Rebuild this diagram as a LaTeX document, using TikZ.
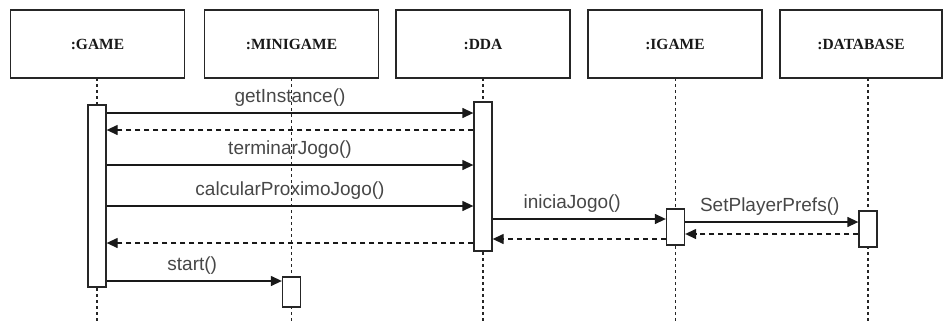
\documentclass[tikz,border=0pt]{standalone}
\usepackage{fontspec}
\setmainfont{Liberation Serif}
\newfontfamily\msgfont{Liberation Sans}
\usetikzlibrary{arrows.meta}
\begin{document}
\begin{tikzpicture}[x=1pt,y=-1pt,
  objbox/.style={draw=black!85,line width=1.4pt,minimum width=174pt,minimum height=68pt,inner sep=0pt,
    font=\fontsize{15.5}{17}\selectfont\bfseries,text=black!90},
  actbar/.style={draw=black!85,fill=white,line width=1.3pt,minimum width=18pt,inner sep=0pt},
  life/.style={draw=black!85,line width=1.7pt,dash pattern=on 3pt off 3pt},
  msg/.style={draw=black!90,line width=1.3pt,-{Triangle[length=11pt,width=10pt]}},
  ret/.style={draw=black!90,line width=1.3pt,dash pattern=on 5pt off 4pt,-{Triangle[length=11pt,width=10pt]}},
  lbl/.style={font=\msgfont\fontsize{19}{21}\selectfont,text=black!72,inner sep=0pt,anchor=base}]
\useasboundingbox (0,0) rectangle (943,322);
% objects
\node[objbox] (game) at (97.5,44) {:GAME};
\node[objbox] (mini) at (291.5,44) {:MINIGAME};
\node[objbox] (dda) at (483,44) {:DDA};
\node[objbox] (igame) at (675,44) {:IGAME};
\node[objbox,minimum width=162pt] (db) at (861,44) {:DATABASE};
\coordinate (bottom) at (0,322);
% lifelines
\coordinate (gameL) at (97,78);
\coordinate (miniL) at (291.5,78);
\coordinate (ddaL) at (483,78);
\coordinate (igameL) at (675.5,78);
\coordinate (dbL) at (868,78);
\draw[life] (gameL) -- (gameL |- bottom);
\draw[life] (miniL) -- (miniL |- bottom);
\draw[life] (ddaL) -- (ddaL |- bottom);
\draw[life] (igameL) -- (igameL |- bottom);
\draw[life] (dbL) -- (dbL |- bottom);
% activation bars
\node[actbar,minimum height=182pt] (gameA) at (97,196) {};
\node[actbar,minimum height=149pt] (ddaA) at (483,176.5) {};
\node[actbar,minimum height=30pt] (miniA) at (291.5,292) {};
\node[actbar,minimum height=36pt] (igameA) at (675.5,227) {};
\node[actbar,minimum height=36pt] (dbA) at (868,229) {};
% message rows
\coordinate (m1) at (0,113);
\coordinate (m2) at (0,130);
\coordinate (m3) at (0,165);
\coordinate (m4) at (0,206);
\coordinate (m5) at (0,219);
\coordinate (m6) at (0,222);
\coordinate (m7) at (0,234);
\coordinate (m8) at (0,239);
\coordinate (m9) at (0,243);
\coordinate (m10) at (0,281);
% messages
\draw[msg] (gameA.east |- m1) -- node[lbl,above=6pt] {getInstance()} (ddaA.west |- m1);
\draw[ret] (ddaA.west |- m2) -- (gameA.east |- m2);
\draw[msg] (gameA.east |- m3) -- node[lbl,above=6pt] {terminarJogo()} (ddaA.west |- m3);
\draw[msg] (gameA.east |- m4) -- node[lbl,above=6pt] {calcularProximoJogo()} (ddaA.west |- m4);
\draw[msg] (ddaA.east |- m5) -- node[lbl,above=6pt,xshift=-7pt] {iniciaJogo()} (igameA.west |- m5);
\draw[msg] (igameA.east |- m6) -- node[lbl,above=6pt,xshift=-2pt] {SetPlayerPrefs()} (dbA.west |- m6);
\draw[ret] (dbA.west |- m7) -- (igameA.east |- m7);
\draw[ret] (igameA.west |- m8) -- (ddaA.east |- m8);
\draw[ret] (ddaA.west |- m9) -- (gameA.east |- m9);
\draw[msg] (gameA.east |- m10) -- node[lbl,above=6pt,xshift=-2pt] {start()} (miniA.west |- m10);
\end{tikzpicture}
\end{document}
